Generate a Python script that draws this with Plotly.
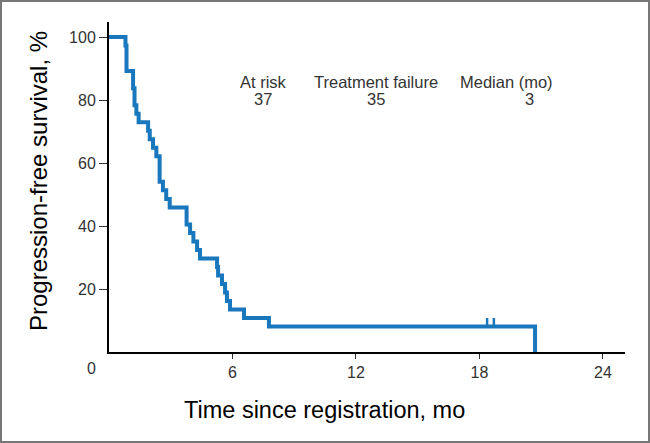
import plotly.graph_objs as go

# Kaplan-Meier step data (months, % progression-free)
months = [0, 0.8, 0.85, 1.17, 1.24, 1.33, 1.44, 1.9, 1.98, 2.14, 2.3, 2.46, 2.62, 2.78, 2.95,
          3.77, 3.94, 4.1, 4.28, 4.42, 5.25, 5.3, 5.49, 5.64, 5.73, 5.88, 6.56, 7.77, 20.7]
pfs = [100, 97.3, 89.2, 83.8, 78.4, 75.7, 73.0, 70.3, 67.6, 64.9, 62.2, 54.1, 51.4, 48.6, 45.9,
       40.5, 37.8, 35.1, 32.4, 29.7, 27.0, 24.3, 21.6, 18.9, 16.2, 13.5, 10.8, 8.1, 0]

# censored patients
censor_months = [18.37, 18.7]
censor_pfs = [8.1, 8.1]

x_ticks = [6, 12, 18, 24]
y_ticks = [20, 40, 60, 80, 100]

summary_heads = ["At risk", "Treatment failure", "Median (mo)"]
summary_vals = ["37", "35", "3"]

x_title = "Time since registration, mo"
y_title = "Progression-free survival, %"

blue = "#1877bd"
font = "Liberation Sans, Arial, sans-serif"

# pixel -> paper helpers (plot area is 109..625 x 22..352)
def px(x):
  return (x - 109) / 516

def py(y):
  return (352 - y) / 330

fig = go.Figure()
fig.add_trace(go.Scatter(x=months, y=pfs, mode="lines", line=dict(color=blue, width=4, shape="hv"),
                         cliponaxis=False, showlegend=False, hoverinfo="skip"))
# censor ticks drawn as upward bars
fig.add_trace(go.Scatter(x=censor_months, y=censor_pfs, mode="markers",
                         marker=dict(size=1, color=blue),
                         error_y=dict(type="data", symmetric=False, array=[2.7, 2.7], arrayminus=[0, 0],
                                      width=0, thickness=2.5, color=blue),
                         cliponaxis=False, showlegend=False, hoverinfo="skip"))

# summary table text
head_x = [263, 376, 506]
val_x = [263, 376, 529]
for hx, vx, h, v in zip(head_x, val_x, summary_heads, summary_vals):
  fig.add_annotation(x=px(hx), y=py(82), xref="paper", yref="paper", text=h,
                     xanchor="center", yanchor="middle", showarrow=False,
                     font=dict(size=16.5, color="#333333", family=font))
  fig.add_annotation(x=px(vx), y=py(99), xref="paper", yref="paper", text=v,
                     xanchor="center", yanchor="middle", showarrow=False,
                     font=dict(size=16.5, color="#333333", family=font))

# shared origin label
fig.add_annotation(x=px(91), y=py(368), xref="paper", yref="paper", text="0",
                   xanchor="center", yanchor="middle", showarrow=False,
                   font=dict(size=16, color="#333333", family=font))

# axis titles (placed off-centre like the original)
fig.add_annotation(x=px(324), y=py(410), xref="paper", yref="paper", text=x_title,
                   xanchor="center", yanchor="middle", showarrow=False,
                   font=dict(size=23.5, color="black", family=font))
fig.add_annotation(x=px(38), y=py(181), xref="paper", yref="paper", text=y_title, textangle=-90,
                   xanchor="center", yanchor="middle", showarrow=False,
                   font=dict(size=24, color="black", family=font))

# frame round the picture
fig.add_shape(type="rect", xref="paper", yref="paper",
              x0=px(1), x1=px(649), y0=py(442), y1=py(1),
              line=dict(color="#777777", width=2))

fig.update_layout(
  width=650, height=443,
  margin=dict(l=109, r=25, t=22, b=91, autoexpand=False),
  plot_bgcolor="white", paper_bgcolor="white",
  font=dict(family=font),
  xaxis=dict(range=[0, 25.07], tickvals=x_ticks, showline=True, linecolor="black", linewidth=2,
             ticks="outside", ticklen=5, tickwidth=1, tickcolor="#333333", showgrid=False, zeroline=False,
             tickfont=dict(size=16, color="#333333"), automargin=False),
  yaxis=dict(range=[0, 104.8], tickvals=y_ticks, showline=True, linecolor="black", linewidth=2,
             ticks="outside", ticklen=8, tickwidth=1, tickcolor="#333333", showgrid=False, zeroline=False,
             tickfont=dict(size=16, color="#333333"), automargin=False),
)

fig.write_html("out.html", config={"displayModeBar": False},
               post_script="document.body.style.margin='0';")
